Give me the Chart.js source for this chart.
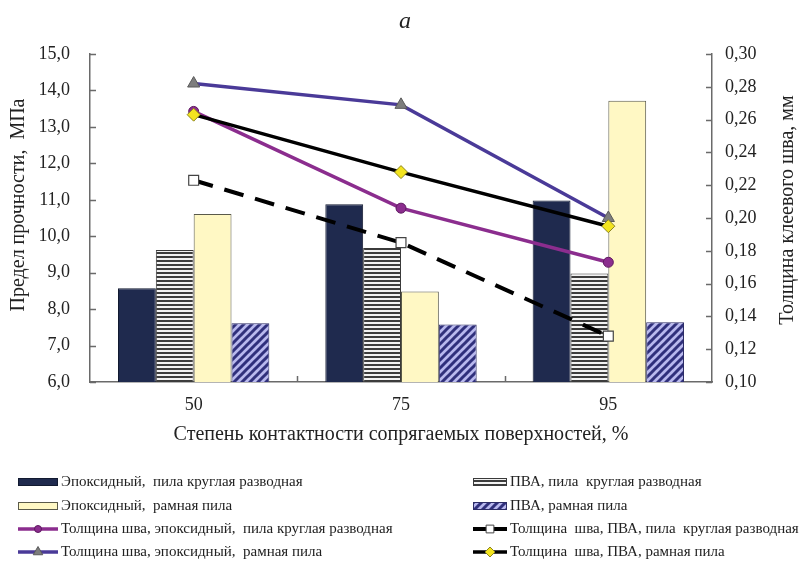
<!DOCTYPE html>
<html>
<head>
<meta charset="utf-8">
<script src="https://cdn.jsdelivr.net/npm/chart.js@4/dist/chart.umd.min.js"></script>
<style>
  html, body { margin: 0; padding: 0; background: #ffffff; }
  #wrap { width: 810px; height: 564px; }
</style>
</head>
<body>
<div id="wrap"><canvas id="c" width="810" height="564"></canvas></div>
<script>
// Contact degree of mating surfaces, %
const categories = ['50', '75', '95'];

// Strength, MPa (left axis)
const epoxyCircular = [8.57, 10.88, 10.98];
const pvaCircular = [9.62, 9.68, 8.98];
const epoxyFrame = [10.61, 8.48, 13.72];
const pvaFrame = [7.61, 7.58, 7.64];

// Glue line thickness, mm (right axis)
const thickEpoxyCircular = [0.265, 0.206, 0.173];
const thickPvaCircular = [0.223, 0.185, 0.128];
const thickEpoxyFrame = [0.282, 0.269, 0.200];
const thickPvaFrame = [0.263, 0.228, 0.195];

// Axis ranges and labels
const strengthTicks = { min: 6, max: 15, step: 1 };
const thicknessTicks = { min: 0.10, max: 0.30, step: 0.02 };
const chartTitle = 'a';
const xTitle = 'Степень контактности сопрягаемых поверхностей, %';
const yLeftTitle = 'Предел прочности,  МПа';
const yRightTitle = 'Толщина клеевого шва, мм';

const FONT = "'Liberation Serif', 'Times New Roman', serif";
Chart.defaults.font.family = FONT;
Chart.defaults.color = '#222222';

function makeStripes() {
  const c = document.createElement('canvas');
  c.width = 4; c.height = 4;
  const g = c.getContext('2d');
  g.fillStyle = '#f2f2f2'; g.fillRect(0, 0, 4, 4);
  g.fillStyle = '#3c3c3c'; g.fillRect(0, 0, 4, 2);
  return g.createPattern(c, 'repeat');
}
function makeHatch() {
  const s = 8;
  const c = document.createElement('canvas');
  c.width = s; c.height = s;
  const g = c.getContext('2d');
  g.fillStyle = '#b8b8ee'; g.fillRect(0, 0, s, s);
  g.strokeStyle = '#30307c'; g.lineWidth = 3;
  g.beginPath();
  g.moveTo(0, s); g.lineTo(s, 0);
  g.moveTo(-s / 2, s / 2); g.lineTo(s / 2, -s / 2);
  g.moveTo(s / 2, s * 1.5); g.lineTo(s * 1.5, s / 2);
  g.stroke();
  return g.createPattern(c, 'repeat');
}
const stripes = makeStripes();
const hatch = makeHatch();

// Inward tick marks, y-axis titles and the two-column legend
const decorations = {
  id: 'decorations',
  afterDraw(chart) {
    const { ctx, chartArea, scales } = chart;
    ctx.save();
    ctx.strokeStyle = '#6a6a6a';
    ctx.lineWidth = 1.5;
    ctx.beginPath();
    scales.y.ticks.forEach((t, i) => {
      const py = Math.round(scales.y.getPixelForTick(i)) + 0.5;
      ctx.moveTo(chartArea.left, py); ctx.lineTo(chartArea.left + 6, py);
    });
    scales.y1.ticks.forEach((t, i) => {
      const py = Math.round(scales.y1.getPixelForTick(i)) + 0.5;
      ctx.moveTo(chartArea.right - 6, py); ctx.lineTo(chartArea.right, py);
    });
    for (let i = 0; i < categories.length - 1; i++) {
      const bx = Math.round((scales.x.getPixelForTick(i) + scales.x.getPixelForTick(i + 1)) / 2) + 0.5;
      ctx.moveTo(bx, chartArea.bottom); ctx.lineTo(bx, chartArea.bottom - 6);
    }
    ctx.stroke();

    // axis titles, both reading bottom to top
    ctx.fillStyle = '#222222';
    ctx.font = '20px ' + FONT;
    ctx.textAlign = 'center';
    ctx.textBaseline = 'middle';
    [[19, 205, yLeftTitle], [788, 210, yRightTitle]].forEach(([tx, ty, txt]) => {
      ctx.save();
      ctx.translate(tx, ty);
      ctx.rotate(-Math.PI / 2);
      ctx.fillText(txt, 0, 0);
      ctx.restore();
    });

    // legend
    const cols = [{ x0: 18, x1: 58, tx: 61 }, { x0: 473, x1: 507, tx: 510 }];
    const rows = [482, 506, 529, 552];
    ctx.font = '15px ' + FONT;
    ctx.textAlign = 'left';
    chart.data.datasets.forEach((ds, i) => {
      const col = cols[i % 2];
      const y = rows[Math.floor(i / 2)];
      if (ds.type === 'line') {
        ctx.save();
        ctx.strokeStyle = ds.borderColor;
        ctx.lineWidth = ds.borderWidth;
        ctx.beginPath();
        ctx.moveTo(col.x0, y); ctx.lineTo(col.x1, y);
        ctx.stroke();
        ctx.fillStyle = ds.pointBackgroundColor;
        ctx.strokeStyle = ds.pointBorderColor;
        ctx.lineWidth = 1;
        Chart.helpers.drawPoint(ctx, {
          pointStyle: ds.pointStyle,
          radius: Math.max(ds.pointRadius - 1.5, 3),
          rotation: 0,
          borderWidth: 1
        }, (col.x0 + col.x1) / 2, y);
        ctx.restore();
      } else {
        ctx.fillStyle = ds.backgroundColor;
        ctx.fillRect(col.x0, y - 3.5, col.x1 - col.x0, 7);
        ctx.strokeStyle = ds.borderColor;
        ctx.lineWidth = 1;
        ctx.strokeRect(col.x0 + 0.5, y - 3.5, col.x1 - col.x0 - 1, 7);
      }
      ctx.fillStyle = '#222222';
      ctx.fillText(ds.label, col.tx, y);
    });
    ctx.restore();
  }
};

const commaFixed = (v, d) => Number(v).toFixed(d).replace('.', ',');

const axisBorder = { display: true, color: '#6a6a6a', width: 1.5 };
const noGrid = { display: true, drawOnChartArea: false, drawTicks: false };

new Chart(document.getElementById('c'), {
  type: 'bar',
  data: {
    labels: categories,
    datasets: [
      { label: 'Эпоксидный,  пила круглая разводная', data: epoxyCircular, yAxisID: 'y',
        backgroundColor: '#1f2a4e', borderColor: '#121a30', borderWidth: 1, order: 2 },
      { label: 'ПВА, пила  круглая разводная', data: pvaCircular, yAxisID: 'y',
        backgroundColor: stripes, borderColor: '#3a3a3a', borderWidth: 1, order: 2 },
      { label: 'Эпоксидный,  рамная пила', data: epoxyFrame, yAxisID: 'y',
        backgroundColor: '#fff8c4', borderColor: '#5a5a4a', borderWidth: 1, order: 2 },
      { label: 'ПВА, рамная пила', data: pvaFrame, yAxisID: 'y',
        backgroundColor: hatch, borderColor: '#2c2c66', borderWidth: 1, order: 2 },
      { type: 'line', label: 'Толщина шва, эпоксидный,  пила круглая разводная', data: thickEpoxyCircular, yAxisID: 'y1',
        borderColor: '#8b2d8e', borderWidth: 3.5, pointStyle: 'circle', pointRadius: 5,
        pointBackgroundColor: '#8b2d8e', pointBorderColor: '#5e1a60', pointBorderWidth: 1, order: 1 },
      { type: 'line', label: 'Толщина  шва, ПВА, пила  круглая разводная', data: thickPvaCircular, yAxisID: 'y1',
        borderColor: '#000000', borderWidth: 4, borderDash: [20, 12], pointStyle: 'rect', pointRadius: 7,
        pointBackgroundColor: '#ffffff', pointBorderColor: '#444444', pointBorderWidth: 1.2, order: 1 },
      { type: 'line', label: 'Толщина шва, эпоксидный,  рамная пила', data: thickEpoxyFrame, yAxisID: 'y1',
        borderColor: '#4a3a98', borderWidth: 3.5, pointStyle: 'triangle', pointRadius: 7,
        pointBackgroundColor: '#7d7d7d', pointBorderColor: '#5a5a5a', pointBorderWidth: 1, order: 1 },
      { type: 'line', label: 'Толщина  шва, ПВА, рамная пила', data: thickPvaFrame, yAxisID: 'y1',
        borderColor: '#000000', borderWidth: 3.5, pointStyle: 'rectRot', pointRadius: 6.5,
        pointBackgroundColor: '#f3e41f', pointBorderColor: '#8c8420', pointBorderWidth: 1, order: 0 }
    ]
  },
  options: {
    responsive: false,
    devicePixelRatio: 1,
    animation: false,
    layout: { padding: { left: 0, right: 0, top: 0, bottom: 112 } },
    datasets: {
      bar: { categoryPercentage: 0.73, barPercentage: 1.0 }
    },
    plugins: {
      legend: { display: false },
      tooltip: { enabled: false },
      title: {
        display: true, text: chartTitle,
        font: { family: FONT, size: 24, style: 'italic', weight: 'normal' },
        color: '#222222',
        padding: { top: 7, bottom: 18.2 }
      }
    },
    scales: {
      x: {
        grid: noGrid,
        border: axisBorder,
        ticks: { padding: 12, font: { size: 18 }, color: '#222222' },
        title: { display: true, text: xTitle, font: { size: 20 }, color: '#222222', padding: { top: 0, bottom: 5 } },
        afterFit(s) { s.height = 70; }
      },
      y: {
        position: 'left',
        min: strengthTicks.min, max: strengthTicks.max,
        grid: noGrid,
        border: axisBorder,
        ticks: { stepSize: strengthTicks.step, padding: 20, font: { size: 18 }, color: '#222222',
          callback: v => commaFixed(v, 1) },
        afterFit(s) { s.width = 90; }
      },
      y1: {
        position: 'right',
        min: thicknessTicks.min, max: thicknessTicks.max,
        grid: noGrid,
        border: axisBorder,
        ticks: { stepSize: thicknessTicks.step, padding: 13, font: { size: 18 }, color: '#222222',
          callback: v => commaFixed(v, 2) },
        afterFit(s) { s.width = 98; }
      }
    }
  },
  plugins: [decorations]
});
</script>
</body>
</html>
